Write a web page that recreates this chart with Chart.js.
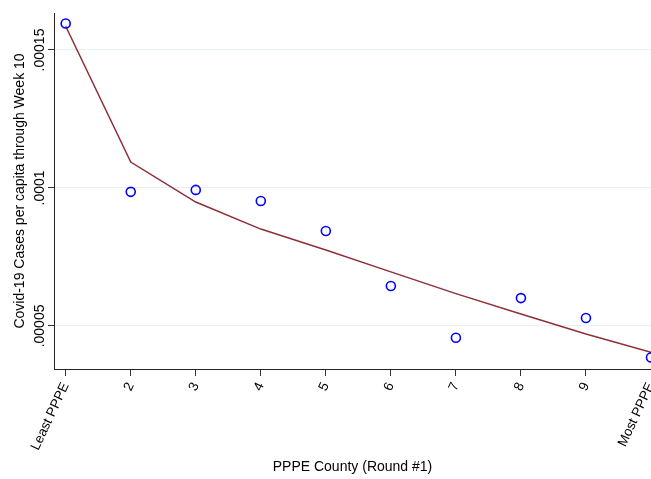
<!DOCTYPE html>
<html>
<head>
<meta charset="utf-8">
<script src="https://cdn.jsdelivr.net/npm/chart.js@4"></script>
<style>
html,body{margin:0;padding:0;background:#fff;}
#wrap{width:651px;height:479px;position:relative;}
</style>
</head>
<body>
<div id="wrap"><canvas id="chart"></canvas></div>
<script>
// PPPE county rank (1 = least, 10 = most)
var ranks = [1, 2, 3, 4, 5, 6, 7, 8, 9, 10];
var rankLabels = ['Least PPPE', '2', '3', '4', '5', '6', '7', '8', '9', 'Most PPPE'];
// observed cases per capita through week 10
var casesPerCapita = [0.0001596, 0.0000986, 0.0000993, 0.0000953, 0.0000844, 0.0000645, 0.0000457, 0.0000601, 0.0000529, 0.0000386];
// fitted curve
var fittedCases = [0.0001586, 0.0001094, 0.0000949, 0.0000851, 0.0000775, 0.0000696, 0.0000617, 0.0000543, 0.0000471, 0.0000405];
var yTicks = [0.00005, 0.0001, 0.00015];
var yTickLabels = ['.00005', '.0001', '.00015'];

var FONT = 'Liberation Sans, Arial, sans-serif';
Chart.defaults.font.family = FONT;
Chart.defaults.color = '#000';

function pts(ys) {
    return ranks.map(function (x, i) { return {x: x, y: ys[i]}; });
}

var ctx = document.getElementById('chart').getContext('2d');
var chart = new Chart(ctx, {
    type: 'scatter',
    data: {
        datasets: [{
            type: 'scatter',
            data: pts(casesPerCapita),
            pointStyle: 'circle',
            pointRadius: 4.5,
            pointBorderWidth: 1.6,
            borderColor: '#0000ff',
            backgroundColor: 'rgba(0,0,0,0)',
            clip: 8,
            order: 1
        }, {
            type: 'line',
            data: pts(fittedCases),
            borderColor: '#8e2e35',
            borderWidth: 1.5,
            pointRadius: 0,
            tension: 0,
            fill: false,
            order: 2
        }]
    },
    options: {
        responsive: true,
        maintainAspectRatio: false,
        animation: false,
        layout: {autoPadding: false, padding: {top: 13, right: 0, bottom: 0, left: 0}},
        plugins: {legend: {display: false}, tooltip: {enabled: false}},
        scales: {
            x: {
                type: 'linear',
                min: 0.82,
                max: 10,
                afterBuildTicks: function (scale) {
                    scale.ticks = ranks.map(function (v) { return {value: v}; });
                },
                afterFit: function (scale) {
                    scale.height = 110;
                    scale.paddingLeft = 0;
                    scale.paddingRight = 0;
                },
                ticks: {
                    callback: function (v) { return rankLabels[ranks.indexOf(v)]; },
                    minRotation: 65,
                    maxRotation: 65,
                    autoSkip: false,
                    padding: 4,
                    font: {size: 13.5}
                },
                grid: {
                    drawOnChartArea: false,
                    tickLength: 7,
                    tickColor: '#333',
                    tickWidth: 1
                },
                border: {color: '#222', width: 1},
                title: {
                    display: true,
                    text: 'PPPE County (Round #1)',
                    font: {size: 14},
                    padding: {top: 0, bottom: 3}
                }
            },
            y: {
                type: 'linear',
                min: 0.0000344,
                max: 0.0001634,
                afterBuildTicks: function (scale) {
                    scale.ticks = yTicks.map(function (v) { return {value: v}; });
                },
                afterFit: function (scale) {
                    scale.width = 54;
                    scale.paddingTop = 0;
                    scale.paddingBottom = 0;
                },
                ticks: {
                    callback: function (v) { return yTickLabels[yTicks.indexOf(v)]; },
                    minRotation: 90,
                    maxRotation: 90,
                    crossAlign: 'center',
                    padding: -14,
                    font: {size: 14}
                },
                grid: {
                    color: '#e8f0f2',
                    lineWidth: 1,
                    tickLength: 6,
                    tickColor: '#333'
                },
                border: {color: '#222', width: 1},
                title: {
                    display: true,
                    text: 'Covid-19 Cases per capita through Week 10',
                    font: {size: 14},
                    padding: {top: 12, bottom: 0}
                }
            }
        }
    }
});
</script>
</body>
</html>
